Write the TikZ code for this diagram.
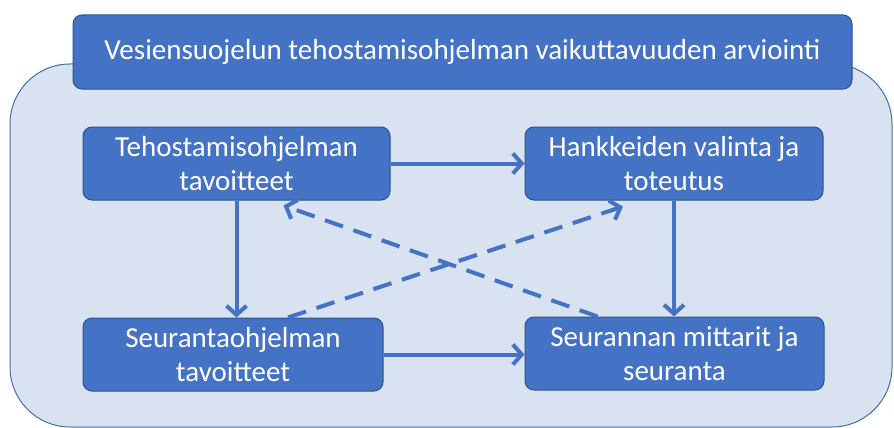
\documentclass[tikz,border=0pt]{standalone}
\usepackage{fontspec}
\setmainfont{Carlito}
\usetikzlibrary{arrows.meta}
\definecolor{boxblue}{HTML}{4472C4}
\definecolor{boxedge}{HTML}{2F528F}
\definecolor{bgfill}{HTML}{D9E2F0}
\definecolor{bgedge}{HTML}{41719C}
\definecolor{arrowblue}{HTML}{4472C4}
\tikzset{
  bluebox/.style={draw=boxedge, line width=1pt, fill=boxblue, rounded corners=9pt,
    text=white, align=center, inner sep=0pt, font=\fontsize{29}{34}\selectfont},
  conn/.style={draw=arrowblue, line width=4pt, -{Straight Barb[length=9pt,width=20pt,line width=4pt]}},
  dconn/.style={conn, dash pattern=on 19pt off 11pt}
}
\begin{document}
\begin{tikzpicture}[x=1pt,y=-1pt]
\useasboundingbox (0,0) rectangle (894,428);
\draw[draw=bgedge, line width=1pt, fill=bgfill, rounded corners=60pt] (10,64) rectangle (892,427);
\node[bluebox, minimum width=779pt, minimum height=74pt, font=\fontsize{29}{34}\selectfont] (title) at (462.5,52) {Vesiensuojelun tehostamisohjelman vaikuttavuuden arviointi};
\node[bluebox, minimum width=307pt, minimum height=73pt] (b1) at (236.5,163.5) {Tehostamisohjelman\\tavoitteet};
\node[bluebox, minimum width=298pt, minimum height=73pt] (b2) at (674,163.5) {Hankkeiden valinta ja\\toteutus};
\node[bluebox, minimum width=300pt, minimum height=73pt] (b3) at (233,354.5) {Seurantaohjelman\\tavoitteet};
\node[bluebox, minimum width=299pt, minimum height=73pt] (b4) at (674.5,353.5) {Seurannan mittarit ja\\seuranta};
\draw[conn] (b1.east) -- (b1.east -| b2.west);
\draw[conn] (b3.east) -- (b3.east -| b4.west);
\draw[conn] (b1.south) -- (b1.south |- b3.north);
\draw[conn] (b2.south) -- (b2.south |- b4.north);
\draw[dconn] ([xshift=55pt]b3.north) -- ([xshift=-51pt,yshift=-6pt]b2.south);
\draw[dconn] ([xshift=-77pt]b4.north) -- ([xshift=47pt,yshift=-5pt]b1.south);
\end{tikzpicture}
\end{document}
